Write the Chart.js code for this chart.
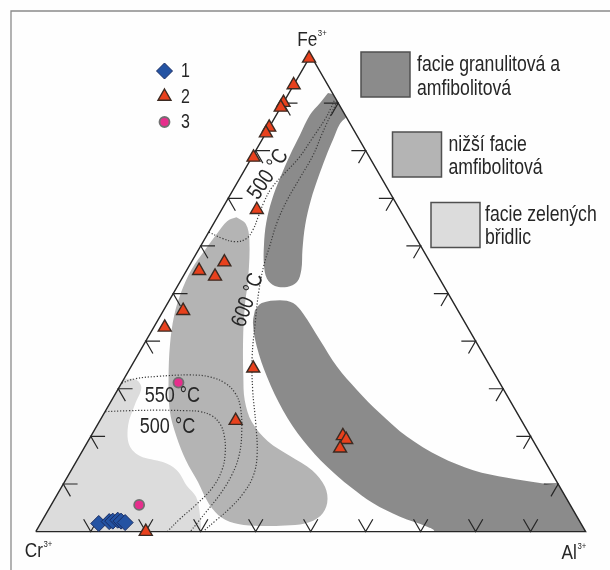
<!DOCTYPE html>
<html lang="cs">
<head>
<meta charset="utf-8">
<title>Cr–Al–Fe³⁺</title>
<script src="https://cdn.jsdelivr.net/npm/chart.js@4/dist/chart.umd.min.js"></script>
<style>
  html, body { margin: 0; padding: 0; background: #ffffff; }
  #box { width: 610px; height: 570px; }
  canvas { display: block; }
</style>
</head>
<body>
<div id="box"><canvas id="plot" width="610" height="570"></canvas></div>
<script>
// Every composition is written as [Al, Fe] in percent of Cr + Al + Fe³⁺; Cr is the remainder.
const series1 = [[10.6, 1.7], [12.3, 2.1], [12.9, 2.2], [13.7, 2.4], [14.4, 2.2], [15.3, 1.9]];
const series2 = [[0, 99.4], [0, 93.8], [0, 90.1], [0, 89.1], [0, 84.9], [0, 83.7], [0.3, 78.6],
  [6.4, 67.6], [6.0, 56.6], [2.3, 54.8], [5.8, 53.6], [3.6, 46.4], [2.0, 42.9],
  [22.4, 34.3], [24.7, 23.3], [45.8, 20.1], [46.8, 19.3], [46.6, 17.5], [20.0, 0]];
const series3 = [[10.3, 31.3], [16.0, 5.6]];
const seriesNames = ['1', '2', '3'];

const vertexNames = ['Cr', 'Al', 'Fe'];
const vertexCharge = '3+';
const tickSteps = [10, 20, 30, 40, 50, 60, 70, 80, 90];

// Facies fields (outlines); points outside the triangle are cut off by the triangle itself.
const faciesNames = [['facie granulitová a', 'amfibolitová'], ['nižší facie', 'amfibolitová'], ['facie zelených', 'břidlic']];
const granuliteUpper = [[7.1, 92.1], [9.0, 91.5], [11.4, 89.4], [12.9, 87.6], [12.5, 85.6], [12.9, 82.3],
  [13.4, 78.7], [14.2, 74.3], [15.2, 69.7], [16.8, 64.4], [18.9, 59.2], [20.8, 55.0], [21.3, 52.4],
  [20.0, 51.4], [17.7, 51.6], [15.5, 53.1], [13.5, 56.0], [11.4, 60.2], [9.5, 64.8], [8.1, 69.7],
  [7.3, 74.3], [6.7, 79.1], [6.4, 83.3], [6.1, 87.5], [6.7, 90.0], [7.1, 92.1]];
const granuliteLower = [[16.6, 46.5], [17.1, 48.0], [20.1, 48.6], [22.8, 48.0], [25.6, 45.9], [31.6, 40.2],
  [37.5, 34.6], [43.6, 29.7], [50.1, 24.9], [57.6, 19.9], [65.7, 15.7], [73.1, 12.9], [80.1, 11.3],
  [86.6, 10.2], [90.4, 9.7], [96, 9.6], [108, -4], [73.5, -4], [72.5, 0], [70.7, 1.0], [64.7, 3.1],
  [58.3, 6.0], [52.5, 9.4], [46.2, 13.6], [39.0, 19.2], [32.2, 25.5], [25.8, 32.5], [20.8, 38.8],
  [17.6, 43.8], [16.6, 46.5]];
const lowerAmphibolite = [[3.5, 66.0], [5.9, 64.6], [8.2, 61.3], [11.9, 53.5], [14.4, 47.2], [17.6, 40.2],
  [21.5, 32.5], [24.2, 27.6], [27.8, 23.0], [32.7, 19.0], [38.3, 15.9], [43.8, 12.9], [47.9, 9.4],
  [50.0, 6.0], [50.1, 3.3], [48.1, 1.7], [44.7, 1.3], [40.2, 1.2], [36.0, 1.6], [32.4, 2.9], [28.6, 5.8],
  [24.3, 10.4], [19.8, 15.0], [15.5, 20.1], [11.6, 25.5], [8.0, 32.3], [4.8, 39.2], [2.5, 45.3],
  [1.3, 50.3], [0.8, 55.0], [1.2, 59.2], [1.7, 62.9], [2.2, 65.2], [3.5, 66.0]];
const greenschist = [[-5, -4], [-5, 31.6], [0.7, 32.1], [2.5, 31.8], [4.1, 30.2], [4.7, 26.6], [5.6, 22.4],
  [7.9, 18.2], [11.0, 15.9], [15.8, 14.6], [19.2, 12.9], [22.7, 9.6], [25.5, 7.3], [28.1, 3.5],
  [29.9, 0], [30, -4], [-5, -4]];

// Isotherms
const isothermNames = ['500 °C', '600 °C', '550 °C', '500 °C'];
const iso500upper = [[0, 62.9], [3.1, 61.6], [5.8, 60.9], [7.5, 61.5], [7.8, 63.4], [7.4, 66.1],
  [6.9, 69.2], [6.8, 72.2], [7.6, 75.2], [8.6, 78.5], [9.0, 82.7], [9.3, 86.5], [9.2, 88.9], [9.0, 90.6]];
const iso600 = [[9.6, 90.4], [9.9, 87.3], [10.3, 83.5], [10.9, 79.1], [10.9, 74.3], [10.9, 69.7],
  [11.4, 65.0], [12.5, 60.2], [13.5, 56.0], [15.2, 50.8], [18.0, 43.8], [21.0, 36.7], [24.6, 29.7],
  [28.6, 22.8], [32.2, 16.1], [33.7, 11.7], [33.7, 7.9], [32.8, 4.8], [31.5, 2.2], [30.4, 0]];
const iso550 = [[0, 31.2], [2.0, 32.1], [5.8, 32.6], [11.6, 32.9], [15.4, 32.5], [18.8, 31.2], [21.7, 29.1],
  [24.1, 26.2], [27.1, 20.7], [29.0, 15.9], [29.7, 11.9], [29.6, 7.9], [28.9, 4.1], [28.1, 0]];
const iso500lower = [[0, 25.2], [4.4, 25.4], [9.3, 25.5], [14.4, 25.4], [17.3, 25.2], [19.9, 24.3],
  [22.2, 22.6], [24.1, 20.3], [26.2, 16.5], [27.4, 12.9], [27.5, 9.2], [26.3, 5.6], [24.9, 2.7], [23.9, 0]];

// ---------------------------------------------------------------------------
const FONT = '"Liberation Sans", Arial, sans-serif';
const NARROW = 0.82;           // horizontal squeeze giving the narrow sans look
const INK = '#262626';
const faciesColors = ['#8b8b8b', '#b4b4b4', '#dcdcdc'];
const markerStyles = [
  { pointStyle: 'rectRot', radius: 8, fill: '#2453a3', stroke: '#1a2d63', width: 1 },
  { pointStyle: 'triangle', radius: 7.5, fill: '#e8411d', stroke: '#3b2a22', width: 1.4 },
  { pointStyle: 'circle', radius: 5, fill: '#e62e8c', stroke: '#707070', width: 1.8 }
];
const TICK = 2.6;

const toXY = ([al, fe]) => (fe === null ? { x: 0, y: null } : { x: al + fe / 2, y: fe });

// small tick pairs along the three sides, following the two grid directions through each step
function tickPoints() {
  const pts = [];
  const gap = [null, null];
  tickSteps.forEach(s => {
    pts.push([s - TICK, TICK], [s, 0], [s, TICK], gap);                     // base: V shape
    pts.push([TICK, s], [0, s], [TICK, s - TICK], gap);                     // Cr–Fe side
    pts.push([100 - s - TICK, s], [100 - s, s], [100 - s, s - TICK], gap);  // Al–Fe side
  });
  return pts.map(toXY);
}

const markerData = [series1, series2, series3];
const markerSets = markerData.map((d, i) => ({
  type: 'scatter',
  label: seriesNames[i],
  data: d.map(toXY),
  pointStyle: markerStyles[i].pointStyle,
  pointRadius: markerStyles[i].radius,
  pointBackgroundColor: markerStyles[i].fill,
  pointBorderColor: markerStyles[i].stroke,
  pointBorderWidth: markerStyles[i].width,
  clip: false,
  order: 0
})).reverse();

const frameSets = [
  {
    type: 'line', label: 'triangle',
    data: [[0, 0], [100, 0], [0, 100], [0, 0]].map(toXY),
    borderColor: INK, borderWidth: 1.4, borderJoinStyle: 'miter', pointRadius: 0,
    fill: false, tension: 0, clip: false, order: 1
  },
  {
    type: 'line', label: 'ticks',
    data: tickPoints(),
    borderColor: INK, borderWidth: 1.2, pointRadius: 0, spanGaps: false,
    fill: false, tension: 0, clip: false, order: 1
  }
];

const isoSets = [iso500upper, iso600, iso550, iso500lower].map((d, i) => ({
  type: 'line', label: isothermNames[i],
  data: d.map(toXY),
  borderColor: '#3c3c3c', borderWidth: 1.2, borderDash: [1.2, 1.8], pointRadius: 0,
  fill: false, tension: 0.4, clip: false, order: 2
}));

const fieldOutlines = [granuliteUpper, granuliteLower, lowerAmphibolite, greenschist];
const fieldFacies = [0, 0, 1, 2];
const shapeSets = fieldOutlines.map((d, i) => ({
  type: 'line', label: 'field' + i,
  data: d.map(toXY),
  backgroundColor: faciesColors[fieldFacies[i]],
  borderColor: 'rgba(0,0,0,0)', borderWidth: 0, pointRadius: 0,
  fill: 'shape', tension: 0.35, clip: false, order: 3
}));

const datasets = [...markerSets, ...frameSets, ...isoSets, ...shapeSets];
const firstShapeIndex = markerSets.length + frameSets.length + isoSets.length;

// labels of the isotherms: [Al, Fe] anchor and text angle in degrees
const isothermLabelAt = [[4.8, 75.0, -56], [14.3, 48.6, -70], [10.6, 28.5, 0], [13.0, 21.9, 0]];

function pix(chart, al, fe) {
  return { x: chart.scales.x.getPixelForValue(al + fe / 2), y: chart.scales.y.getPixelForValue(fe) };
}

// narrow text: returns drawn width
function text(ctx, str, x, y, size, align = 'left', baseline = 'alphabetic', angle = 0) {
  ctx.save();
  ctx.font = `${size}px ${FONT}`;
  ctx.textAlign = align;
  ctx.textBaseline = baseline;
  ctx.translate(x, y);
  if (angle) ctx.rotate(angle * Math.PI / 180);
  ctx.scale(NARROW, 1);
  ctx.fillText(str, 0, 0);
  const w = ctx.measureText(str).width * NARROW;
  ctx.restore();
  return w;
}

const ternaryPlugin = {
  id: 'ternary',
  beforeDraw(chart) {
    const { ctx } = chart;
    ctx.save();
    ctx.fillStyle = '#fefefe';
    ctx.fillRect(0, 0, chart.width, chart.height);
    ctx.strokeStyle = '#8a8a8a';
    ctx.lineWidth = 1.3;
    ctx.beginPath();
    ctx.moveTo(11, chart.height);
    ctx.lineTo(11, 11);
    ctx.lineTo(chart.width, 11);
    ctx.stroke();
    ctx.restore();
  },
  beforeDatasetsDraw(chart) {
    // keep the facies fields inside the triangle
    const { ctx } = chart;
    const a = pix(chart, 0, 0), b = pix(chart, 100, 0), c = pix(chart, 0, 100);
    ctx.save();
    ctx.beginPath();
    ctx.moveTo(a.x, a.y); ctx.lineTo(b.x, b.y); ctx.lineTo(c.x, c.y); ctx.closePath();
    ctx.clip();
  },
  afterDatasetDraw(chart, args) {
    if (args.index === firstShapeIndex) chart.ctx.restore();
  },
  afterDraw(chart) {
    const { ctx } = chart;
    ctx.save();
    ctx.fillStyle = INK;

    // isotherm labels
    isothermNames.forEach((t, i) => {
      const [al, fe, ang] = isothermLabelAt[i];
      const p = pix(chart, al, fe);
      text(ctx, t, p.x, p.y, 22, 'center', 'middle', ang);
    });

    // vertex labels with charge
    const vtx = [pix(chart, 0, 0), pix(chart, 100, 0), pix(chart, 0, 100)];
    const off = [[-11, 25.5], [-24, 27.5], [-13.5, -9.5]];
    vertexNames.forEach((n, i) => {
      const x = vtx[i].x + off[i][0], y = vtx[i].y + off[i][1];
      const w = text(ctx, n, x, y, 21);
      text(ctx, vertexCharge, x + w + 0.5, y - 10.5, 9.5);
    });

    // marker legend
    const rows = [71, 96.5, 122];
    seriesNames.forEach((n, i) => {
      const st = markerStyles[i];
      ctx.fillStyle = st.fill;
      ctx.strokeStyle = st.stroke;
      ctx.lineWidth = st.width;
      Chart.helpers.drawPoint(ctx, { pointStyle: st.pointStyle, radius: st.radius, rotation: 0, borderWidth: st.width }, 164.5, rows[i]);
      ctx.fillStyle = INK;
      text(ctx, n, 181, rows[i] + 1, 19.5, 'left', 'middle');
    });

    // facies legend
    const boxes = [[361, 52, 417, [71, 94.5]], [392.5, 132, 448.5, [151, 173.5]], [431, 202.5, 485, [220.5, 243.5]]];
    boxes.forEach(([bx, by, tx, bl], i) => {
      ctx.fillStyle = faciesColors[i];
      ctx.fillRect(bx, by, 49, 45);
      ctx.strokeStyle = '#505050';
      ctx.lineWidth = 1.5;
      ctx.strokeRect(bx, by, 49, 45);
      ctx.fillStyle = INK;
      faciesNames[i].forEach((line, k) => text(ctx, line, tx, bl[k], 21.5));
    });
    ctx.restore();
  }
};

new Chart(document.getElementById('plot'), {
  type: 'scatter',
  data: { datasets },
  options: {
    responsive: false,
    animation: false,
    events: [],
    layout: { padding: { left: 35.8, right: 24.4, top: 55.5, bottom: 38.4 } },
    elements: { line: { capBezierPoints: false } },
    scales: {
      x: { type: 'linear', min: 0, max: 100, display: false },
      y: { type: 'linear', min: 0, max: 100, display: false }
    },
    plugins: { legend: { display: false }, tooltip: { enabled: false } }
  },
  plugins: [ternaryPlugin]
});
</script>
</body>
</html>
